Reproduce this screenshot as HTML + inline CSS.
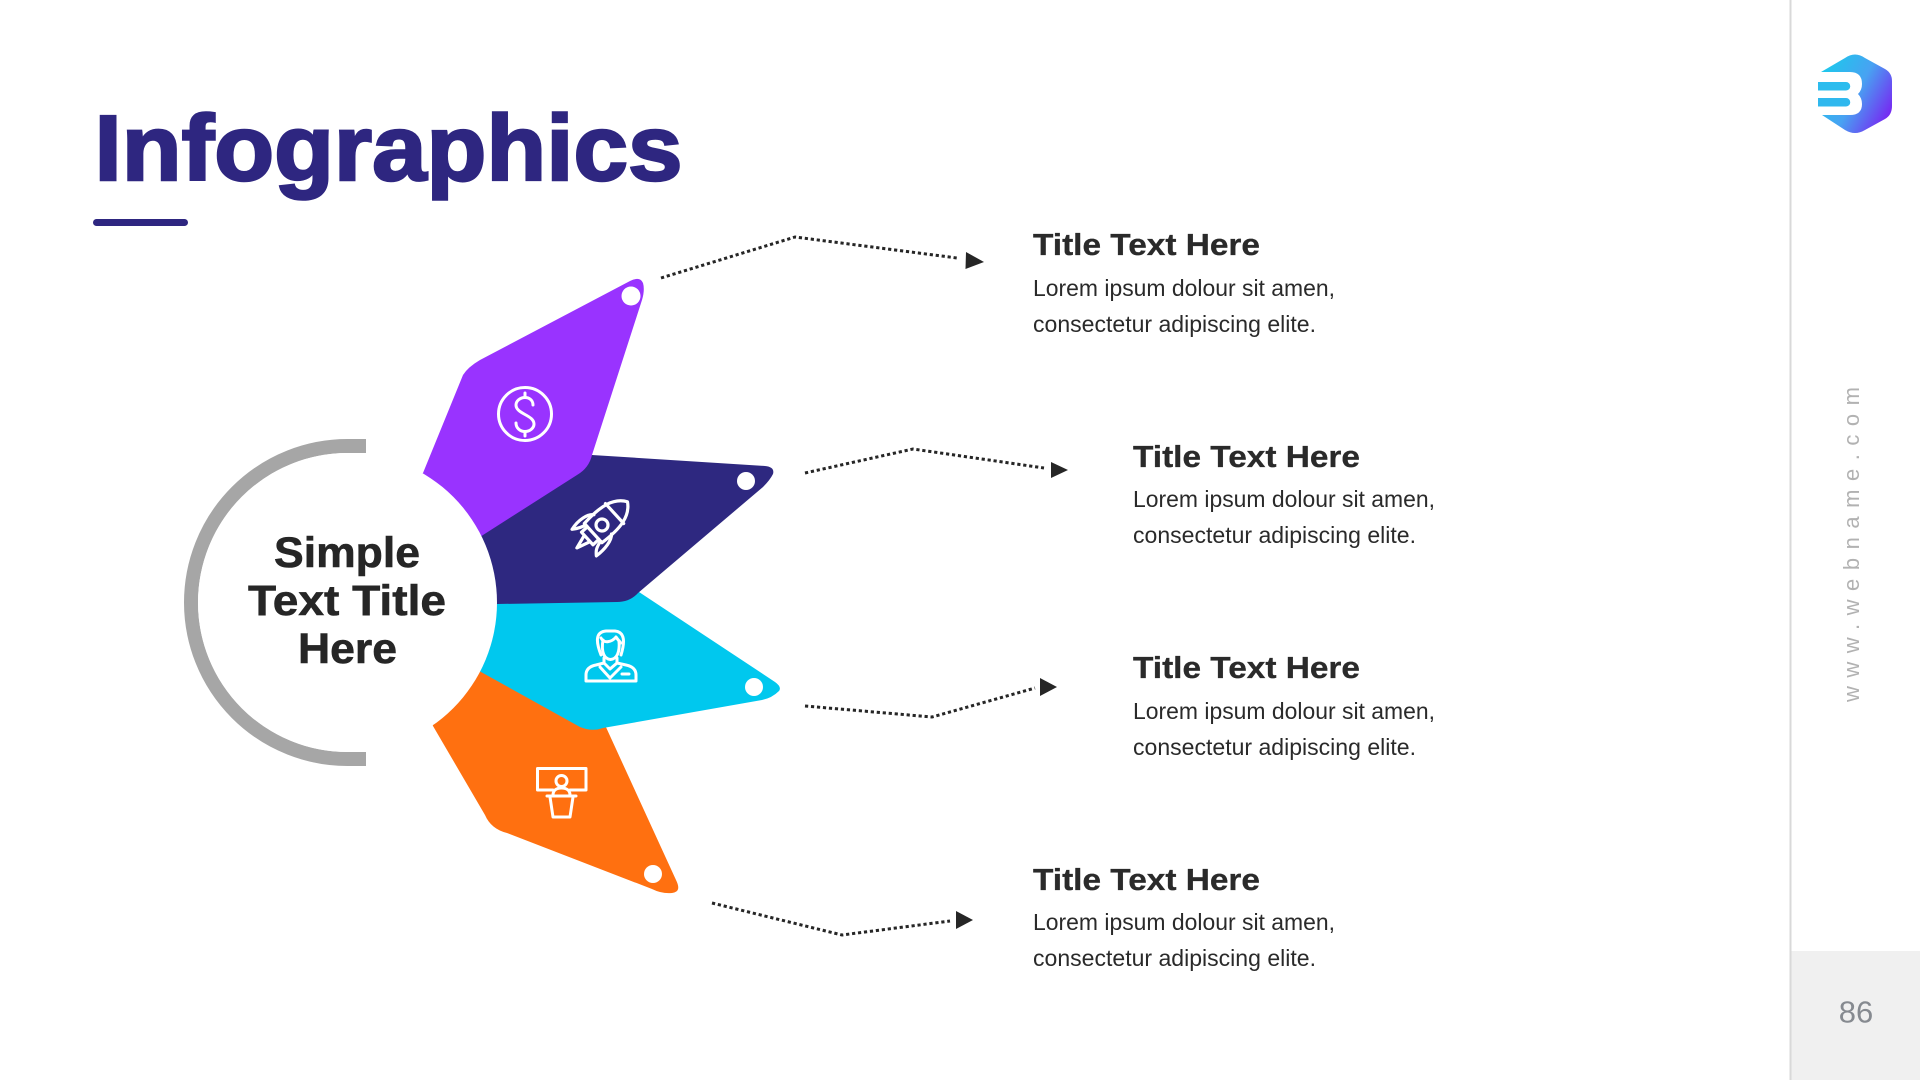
<!DOCTYPE html>
<html lang="en">
<head>
<meta charset="utf-8">
<title>Infographics</title>
<style>
html,body{margin:0;padding:0;background:#fff;width:1920px;height:1080px;overflow:hidden}
svg{display:block}
text{font-family:"Liberation Sans",sans-serif}
</style>
</head>
<body>
<svg width="1920" height="1080" viewBox="0 0 1920 1080" xmlns="http://www.w3.org/2000/svg">
<defs>
<linearGradient id="lg" x1="0" y1="0.2" x2="1" y2="0.8">
<stop offset="0" stop-color="#1cc9ec"/>
<stop offset="0.5" stop-color="#48a2f2"/>
<stop offset="1" stop-color="#7a1ff2"/>
</linearGradient>
</defs>
<rect width="1920" height="1080" fill="#fff"/>

<!-- sidebar -->
<rect x="1791" y="951" width="129" height="129" fill="#f0f0f0"/>
<rect x="1789.5" y="0" width="2" height="1080" fill="#d9d9d9"/>
<text x="1856" y="1022.5" font-size="31" text-anchor="middle" fill="#868a90">86</text>
<text transform="translate(1859,702) rotate(-90)" font-size="22" fill="#b2b2b2" textLength="315" lengthAdjust="spacing">www.webname.com</text>

<!-- logo -->
<path d="M1821 72 L1845 58 Q1855 51 1865 58 L1885 69 Q1892 73 1892 81 L1892 106 Q1892 115 1885 119 L1865 130 Q1855 136 1845 130 L1822 115 Z" fill="url(#lg)"/>
<path d="M1812 72 H1850 Q1862 72 1862 84 Q1862 90 1858 94 Q1862 98 1862 104 Q1862 115 1850 115 H1812 Z" fill="#fff"/>
<path d="M1818 82 H1846 A4.200 4.200 0 0 1 1846 90.500 H1818 Z" fill="#2cbcee"/>
<path d="M1818 98 H1846 A4.200 4.200 0 0 1 1846 106.500 H1818 Z" fill="#2fb8ee"/>

<!-- title -->
<text x="94.500" y="180" font-size="93" font-weight="700" fill="#2e2680" stroke="#2e2680" stroke-width="2.500" textLength="588" lengthAdjust="spacingAndGlyphs">Infographics</text>
<rect x="93" y="219" width="95" height="7" rx="3.5" fill="#2e2680"/>

<!-- ring -->
<path d="M366 446 H347.500 A156.500 156.500 0 0 0 347.500 759 H366" fill="none" stroke="#a6a6a6" stroke-width="14"/>

<!-- petals -->
<path d="M420 690 L470 660 L585 725 L605 725 L676 880 Q682 892 672 893 Q662 894 652 889 L507 833 Q491 829 485 815 L433 726 Z" fill="#ff7010"/>
<path d="M430 610 L497 600 L625 590 L639 592 L775 682 Q782 687 779 691 Q772 698 762 700 L603 728 Q592 732 580 727 L481 672 L430 640 Z" fill="#00c8ee"/>
<path d="M420 570 L570 455 L592 455 L765 466 Q775 467 773 474 Q770 480 763 487 L638 593 Q630 602 617 602 L497 604 L420 610 Z" fill="#2e2880"/>
<path d="M423 473 L463 375 Q468 367 480 360 L630 281 Q640 276 643 283 Q645 290 642 300 L592 455 Q589 468 577 475 L483 535 L400 590 L380 500 Z" fill="#9933ff"/>

<!-- centre disc -->
<circle cx="347.500" cy="602.500" r="149.500" fill="#fff"/>
<g font-size="43" font-weight="700" fill="#262626" stroke="#262626" stroke-width="0.6">
<text x="274" y="567" textLength="146" lengthAdjust="spacingAndGlyphs">Simple</text>
<text x="248" y="615" textLength="198" lengthAdjust="spacingAndGlyphs">Text Title</text>
<text x="298" y="663" textLength="99" lengthAdjust="spacingAndGlyphs">Here</text>
</g>

<!-- dots -->
<g fill="#fff">
<circle cx="631" cy="296" r="9.500"/>
<circle cx="746" cy="481" r="9"/>
<circle cx="754" cy="687" r="9"/>
<circle cx="653" cy="874" r="9"/>
</g>

<!-- dollar icon -->
<g fill="none" stroke="#fff" stroke-width="3" stroke-linecap="round">
<circle cx="525" cy="414" r="26.500"/>
<path d="M533 405 C533 400 529 397.500 525 397.500 C520 397.500 516 401 516 405 C516 414 534 415 534 424 C534 428 530 431.500 525 431.500 C520 431.500 516 428 516 423"/>
<path d="M525 393 V397 M525 432 V436"/>
</g>

<!-- rocket icon -->
<g transform="translate(602,525) rotate(47.600)" fill="none" stroke="#fff" stroke-width="3.2" stroke-linejoin="round" stroke-linecap="round">
<path d="M0 -34.500 C-12 -27 -15.500 -12 -13 12 H13 C15.500 -12 12 -27 0 -34.500 Z"/>
<path d="M-13.500 -17 H13.500"/>
<circle cx="0" cy="0" r="6"/>
<path d="M-8.500 12 V20 H8.500 V12"/>
<path d="M-13 -1 C-18 3 -20 14 -17 25 C-15 22 -13 20 -11 12"/>
<path d="M13 -1 C18 3 20 14 19 25 C15 22 13 20 11 12"/>
<path d="M-4 21 L0 34 L4 21"/>
</g>

<!-- person icon -->
<g fill="none" stroke="#fff" stroke-width="3" stroke-linejoin="round" stroke-linecap="round">
<path d="M601 655 C596 642 595 632 606 631 H615 C625 632 625 642 621 655"/>
<path d="M601 638 C604 644 612 642 616 637 C618 640 620 642 621 643"/>
<path d="M603 640 C601 652 604 659 610.500 659.500 C617 659 620 652 619 641"/>
<path d="M604 658 V663 L596 665 Q586 667 586 675 V681 H636 V675 Q636 667 626 665 L617 663 V658"/>
<path d="M600 667 L610 678 L621 667 M604 663 L610 669 L617 663"/>
<path d="M622 674 H629"/>
</g>

<!-- podium icon -->
<g fill="none" stroke="#fff" stroke-width="3" stroke-linejoin="round" stroke-linecap="round">
<path d="M553 790 H537.500 V768.500 H586 V790 H570"/>
<circle cx="561.500" cy="781" r="5.500"/>
<path d="M553 795 C553 790 557 788 561.500 788 C566 788 570 790 570 795"/>
<path d="M547 796 H576"/>
<path d="M550 797 L553 817 H570 L573 797"/>
</g>

<!-- connectors -->
<g fill="none" stroke="#262626" stroke-width="3" stroke-dasharray="3.200 2.800">
<polyline points="661,278 795,237 957,258"/>
<polyline points="805,473 913,449 1044,468"/>
<polyline points="805,706 932,717 1035,688"/>
<polyline points="712,903 842,935 950,921"/>
</g>
<g fill="#262626">
<polygon points="966,252 984,262 965.500,269"/>
<polygon points="1051,462 1068,470 1051,478"/>
<polygon points="1040,678 1057,687 1040,696"/>
<polygon points="956,911 973,920 956,929"/>
</g>

<!-- text blocks -->
<g fill="#2a2a2a">
<g font-size="31" font-weight="700" stroke="#2a2a2a" stroke-width="0.3">
<text x="1033" y="255" textLength="227" lengthAdjust="spacingAndGlyphs">Title Text Here</text>
<text x="1133" y="467" textLength="227" lengthAdjust="spacingAndGlyphs">Title Text Here</text>
<text x="1133" y="678" textLength="227" lengthAdjust="spacingAndGlyphs">Title Text Here</text>
<text x="1033" y="890" textLength="227" lengthAdjust="spacingAndGlyphs">Title Text Here</text>
</g>
<g font-size="23">
<text x="1033" y="296" textLength="302" lengthAdjust="spacingAndGlyphs">Lorem ipsum dolour sit amen,</text>
<text x="1033" y="332" textLength="283" lengthAdjust="spacingAndGlyphs">consectetur adipiscing elite.</text>
<text x="1133" y="507" textLength="302" lengthAdjust="spacingAndGlyphs">Lorem ipsum dolour sit amen,</text>
<text x="1133" y="543" textLength="283" lengthAdjust="spacingAndGlyphs">consectetur adipiscing elite.</text>
<text x="1133" y="719" textLength="302" lengthAdjust="spacingAndGlyphs">Lorem ipsum dolour sit amen,</text>
<text x="1133" y="755" textLength="283" lengthAdjust="spacingAndGlyphs">consectetur adipiscing elite.</text>
<text x="1033" y="930" textLength="302" lengthAdjust="spacingAndGlyphs">Lorem ipsum dolour sit amen,</text>
<text x="1033" y="966" textLength="283" lengthAdjust="spacingAndGlyphs">consectetur adipiscing elite.</text>
</g>
</g>
</svg>
</body>
</html>
